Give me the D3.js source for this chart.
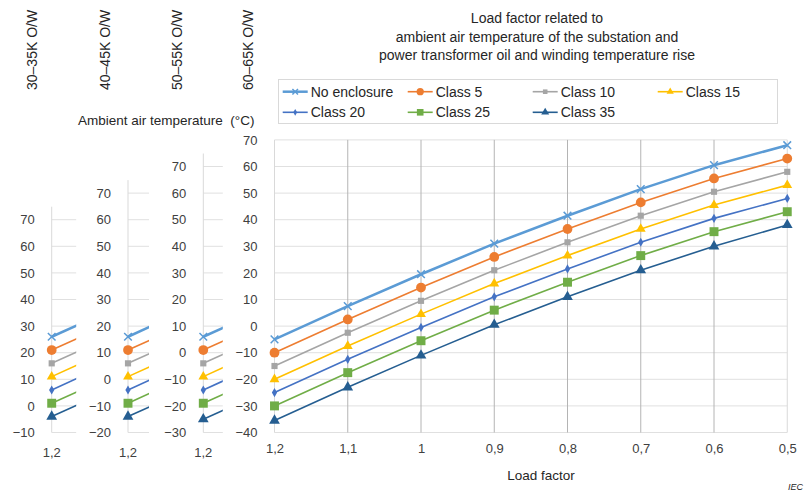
<!DOCTYPE html>
<html lang="en">
  <head>
    <meta charset="utf-8" />
    <title>Load factor chart</title>
    <script src="https://cdn.jsdelivr.net/npm/d3@7"></script>
    <style>
      body { margin: 0; background: #fff; }
      text { font-family: "Liberation Sans", Arial, sans-serif; }
    </style>
  </head>
  <body>
    <svg id="chart" width="804" height="493"></svg>
    <script>
      // categories (load factor)
      const loadFactors = ["1,2", "1,1", "1", "0,9", "0,8", "0,7", "0,6", "0,5"];
      const seriesNames = ["No enclosure", "Class 5", "Class 10", "Class 15", "Class 20", "Class 25", "Class 35"];

      // main panel: 60-65K O/W, ambient air temperature (°C)
      const noEnclosure = [-5, 7.5, 19.5, 31, 41.5, 51.5, 60.5, 68];
      const class5 = [-10, 2.5, 14.5, 26, 36.5, 46.5, 55.5, 63];
      const class10 = [-15, -2.5, 9.5, 21, 31.5, 41.5, 50.5, 58];
      const class15 = [-20, -7.5, 4.5, 16, 26.5, 36.5, 45.5, 53];
      const class20 = [-25, -12.5, -0.5, 11, 21.5, 31.5, 40.5, 48];
      const class25 = [-30, -17.5, -5.5, 6, 16.5, 26.5, 35.5, 43];
      const class35 = [-35.5, -23, -11, 0.5, 11, 21, 30, 38];

      // small panels: values at load factor 1,2 and 1,1 (only the start is visible)
      const o30_35 = [[26, 38.5], [21, 33.5], [16, 28.5], [11, 23.5], [6, 18.5], [1, 13.5], [-4, 8.5]];
      const o40_45 = [[16, 28.5], [11, 23.5], [6, 18.5], [1, 13.5], [-4, 8.5], [-9, 3.5], [-14, -1.5]];
      const o50_55 = [[6, 18.5], [1, 13.5], [-4, 8.5], [-9, 3.5], [-14, -1.5], [-19, -6.5], [-25, -12.5]];

      const panelLabels = ["30–35K O/W", "40–45K O/W", "50–55K O/W", "60–65K O/W"];
      const titleLines = [
        "Load factor related to",
        "ambient air temperature of the substation and",
        "power transformer oil and winding temperature rise"
      ];

      const mainSeries = [noEnclosure, class5, class10, class15, class20, class25, class35];
      const colors = ["#5B9BD5", "#ED7D31", "#A5A5A5", "#FFC000", "#4472C4", "#70AD47", "#255E91"];
      const symbols = [d3.symbolTimes, d3.symbolCircle, d3.symbolSquare, d3.symbolTriangle, d3.symbolDiamond, d3.symbolSquare, d3.symbolTriangle];
      const symSize = [40, 75, 38, 42, 24, 80, 50];
      const lineW = [2.5, 1.6, 1.6, 1.6, 1.6, 1.6, 1.6];

      const svg = d3.select("#chart");
      const bottom = 432.5;
      const unit = 2.66;
      const step = 73.25;
      const tickColor = "#404040";

      const yScaleFor = (min) => d3.scaleLinear().domain([min, 70]).range([bottom, bottom - (70 - min) * unit]);

      function drawMarker(g, i, x, y, scale) {
        const sym = d3.symbol().type(symbols[i]).size(symSize[i] * (scale || 1));
        const p = g.append("path")
          .attr("d", sym())
          .attr("transform", `translate(${x},${y})`);
        if (i === 0) {
          p.attr("fill", "none").attr("stroke", colors[i]).attr("stroke-width", 1.5);
        } else {
          p.attr("fill", colors[i]);
        }
      }

      function drawYAxis(g, y, axisX, min) {
        const ticks = d3.range(min, 71, 10);
        g.append("g")
          .attr("transform", `translate(${axisX - 17},0)`)
          .call(d3.axisLeft(y).tickValues(ticks).tickSize(0).tickPadding(0))
          .call((a) => a.select(".domain").remove())
          .call((a) => a.selectAll("text")
            .attr("fill", tickColor)
            .style("font-size", "13px")
            .style("font-family", "Liberation Sans, Arial, sans-serif"));
      }

      // ---- small panels ----
      const panels = [
        { axisX: 51.7, min: -10, width: 24.5, data: o30_35 },
        { axisX: 128, min: -20, width: 21, data: o40_45 },
        { axisX: 203.3, min: -30, width: 19.5, data: o50_55 }
      ];

      panels.forEach((p, k) => {
        const y = yScaleFor(p.min);
        const x = d3.scalePoint().domain(loadFactors.slice(0, 2)).range([p.axisX, p.axisX + step]);
        const g = svg.append("g");

        g.selectAll(".hgrid")
          .data(d3.range(p.min, 71, 10))
          .join("line")
          .attr("x1", p.axisX).attr("x2", p.axisX + p.width)
          .attr("y1", (d) => y(d)).attr("y2", (d) => y(d))
          .attr("stroke", "#e0e0e0").attr("stroke-width", 1);

        g.append("line")
          .attr("x1", p.axisX).attr("x2", p.axisX)
          .attr("y1", y(70) - 13).attr("y2", bottom)
          .attr("stroke", "#d9d9d9").attr("stroke-width", 1);

        drawYAxis(g, y, p.axisX, p.min);

        g.append("text")
          .attr("x", p.axisX).attr("y", 457)
          .attr("text-anchor", "middle")
          .attr("fill", tickColor)
          .style("font-size", "13px")
          .text(loadFactors[0]);

        svg.append("clipPath").attr("id", "clip" + k)
          .append("rect")
          .attr("x", p.axisX - 8).attr("y", 100)
          .attr("width", p.width + 8).attr("height", 350);

        const lg = g.append("g").attr("clip-path", `url(#clip${k})`);
        const line = d3.line().x((d, j) => x(loadFactors[j])).y((d) => y(d));
        p.data.forEach((vals, i) => {
          lg.append("path")
            .attr("d", line(vals))
            .attr("fill", "none")
            .attr("stroke", colors[i])
            .attr("stroke-width", lineW[i]);
        });
        p.data.forEach((vals, i) => drawMarker(g, i, x(loadFactors[0]), y(vals[0])));
      });

      // ---- main panel ----
      const yMain = yScaleFor(-40);
      const xMain = d3.scalePoint().domain(loadFactors).range([274.5, 274.5 + step * 7]);
      const gm = svg.append("g");

      gm.selectAll(".hgrid")
        .data(d3.range(-40, 71, 10))
        .join("line")
        .attr("x1", xMain("1,2")).attr("x2", xMain("0,5"))
        .attr("y1", (d) => yMain(d)).attr("y2", (d) => yMain(d))
        .attr("stroke", "#e0e0e0").attr("stroke-width", 1);

      gm.selectAll(".vgrid")
        .data(loadFactors)
        .join("line")
        .attr("x1", (d) => xMain(d)).attr("x2", (d) => xMain(d))
        .attr("y1", yMain(70)).attr("y2", yMain(-40))
        .attr("stroke", (d, i) => (i === 0 || i === 7) ? "#d9d9d9" : "#b4b4b4")
        .attr("stroke-width", 1);

      drawYAxis(gm, yMain, xMain("1,2"), -40);

      gm.append("g")
        .attr("transform", `translate(0,${bottom + 11})`)
        .call(d3.axisBottom(xMain).tickSize(0).tickPadding(0))
        .call((a) => a.select(".domain").remove())
        .call((a) => a.selectAll("text")
          .attr("fill", tickColor)
          .style("font-size", "13px")
          .style("font-family", "Liberation Sans, Arial, sans-serif"));

      const mainLine = d3.line().x((d, j) => xMain(loadFactors[j])).y((d) => yMain(d));
      mainSeries.forEach((vals, i) => {
        gm.append("path")
          .attr("d", mainLine(vals))
          .attr("fill", "none")
          .attr("stroke", colors[i])
          .attr("stroke-width", lineW[i]);
      });
      mainSeries.forEach((vals, i) => {
        vals.forEach((v, j) => drawMarker(gm, i, xMain(loadFactors[j]), yMain(v)));
      });

      // ---- legend ----
      const legend = svg.append("g");
      legend.append("rect")
        .attr("x", 278.5).attr("y", 79.5)
        .attr("width", 499).attr("height", 44)
        .attr("fill", "#fff").attr("stroke", "#d9d9d9");
      seriesNames.forEach((name, i) => {
        const lx = 282.7 + (i % 4) * 125;
        const ly = i < 4 ? 91.7 : 112.3;
        legend.append("line")
          .attr("x1", lx).attr("x2", lx + 25)
          .attr("y1", ly).attr("y2", ly)
          .attr("stroke", colors[i]).attr("stroke-width", lineW[i]);
        drawMarker(legend, i, lx + 12.5, ly, 0.55);
        legend.append("text")
          .attr("x", lx + 28).attr("y", ly + 5)
          .attr("fill", "#262626")
          .style("font-size", "14px")
          .text(name);
      });

      // ---- texts ----
      svg.selectAll(".title")
        .data(titleLines)
        .join("text")
        .attr("x", 537).attr("y", (d, i) => 23 + i * 18.5)
        .attr("text-anchor", "middle")
        .attr("fill", "#262626")
        .style("font-size", "14px")
        .text((d) => d);

      const labelX = [37, 110, 182, 253];
      panelLabels.forEach((t, i) => {
        svg.append("text")
          .attr("transform", `translate(${labelX[i]},90) rotate(-90)`)
          .attr("fill", "#262626")
          .style("font-size", "14px")
          .text(t);
      });

      svg.append("text")
        .attr("x", 78).attr("y", 125)
        .attr("fill", "#262626")
        .style("font-size", "13.5px")
        .style("white-space", "pre")
        .text("Ambient air temperature  (°C)");

      svg.append("text")
        .attr("x", 541).attr("y", 480)
        .attr("text-anchor", "middle")
        .attr("fill", "#262626")
        .style("font-size", "13.5px")
        .text("Load factor");

      svg.append("text")
        .attr("x", 803).attr("y", 490)
        .attr("text-anchor", "end")
        .attr("fill", "#262626")
        .style("font-size", "9px")
        .style("font-style", "italic")
        .text("IEC");
    </script>
  </body>
</html>
